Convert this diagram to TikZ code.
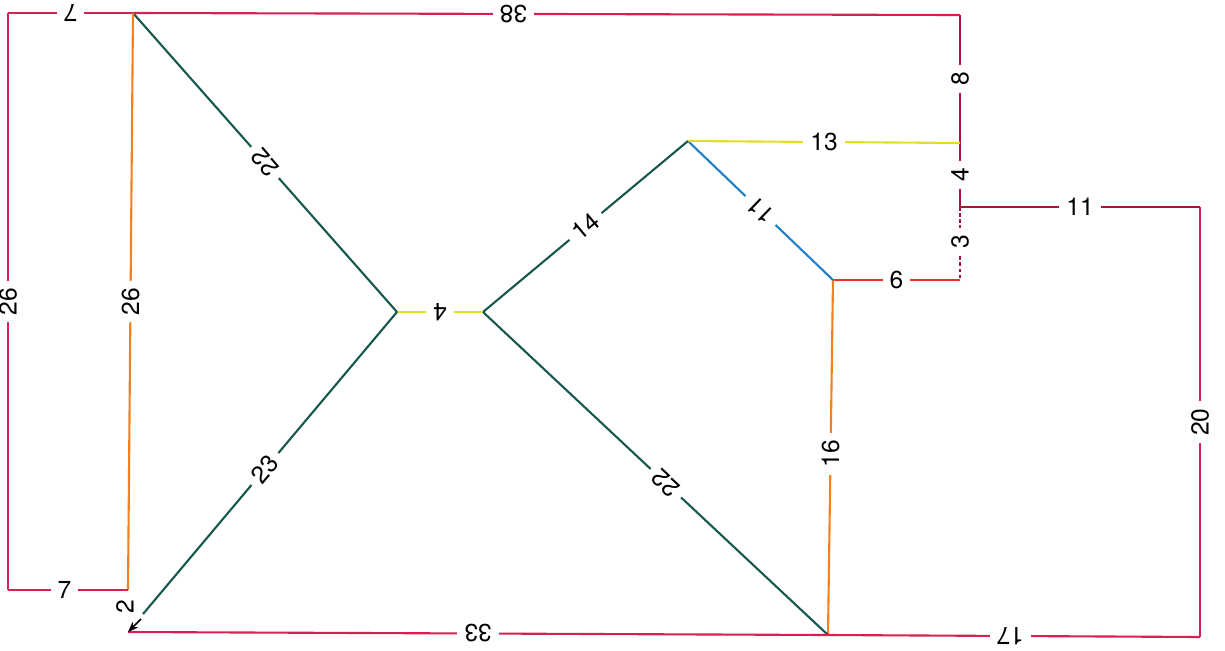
\documentclass[tikz,border=0pt]{standalone}
\usepackage{fontspec}
\setmainfont{TeX Gyre Heros}
\usetikzlibrary{arrows.meta}
\definecolor{crim}{RGB}{214,32,82}
\definecolor{dcrim}{RGB}{170,20,60}
\definecolor{tgreen}{RGB}{22,88,78}
\definecolor{lyellow}{RGB}{226,222,40}
\definecolor{lorange}{RGB}{242,128,30}
\definecolor{lblue}{RGB}{30,128,200}
\definecolor{lred}{RGB}{232,52,40}
\begin{document}
\begin{tikzpicture}[
  x=0.02cm, y=-0.02cm,
  line width=1.2pt,
  lbl/.style={fill=white,text=black,inner sep=4pt,font=\fontsize{14}{16}\selectfont}
]
  \useasboundingbox (0,0) rectangle (1225,650);
  \coordinate (tl) at (8,13);
  \coordinate (ta) at (133,13);
  \coordinate (tr) at (960,15);
  \coordinate (rm) at (960,143);
  \coordinate (rj) at (960,207);
  \coordinate (rb) at (960,280);
  \coordinate (pk) at (688,141);
  \coordinate (cd) at (833,280);
  \coordinate (cl) at (397,312);
  \coordinate (cr) at (483,312);
  \coordinate (bl) at (8,590);
  \coordinate (ob) at (128,590);
  \coordinate (bc) at (128,632);
  \coordinate (bm) at (828,635);
  \coordinate (br) at (1200,637);
  \coordinate (rr) at (1200,207);
  \coordinate (ge) at (143,614);
  \coordinate (as) at (141,619);
  \draw[crim] (tl) -- node[lbl,rotate=180] {7} (ta);
  \draw[crim] (ta) -- node[lbl,pos=0.46,rotate=180] {38} (tr);
  \draw[dcrim] (tr) -- node[lbl,rotate=90] {8} (rm);
  \draw[dcrim] (rm) -- node[lbl,rotate=90] {4} (rj);
  \draw[dcrim,dash pattern=on 2pt off 1.5pt] (rj) -- node[lbl,pos=0.48,rotate=90] {3} (rb);
  \draw[lred] (rb) -- node[lbl] {6} (cd);
  \draw[lorange] (cd) -- node[lbl,pos=0.49,rotate=90] {16} (bm);
  \draw[lblue] (pk) -- node[lbl,rotate=136] {11} (cd);
  \draw[lyellow] (pk) -- node[lbl] {13} (rm);
  \draw[tgreen] (cr) -- node[lbl,rotate=40] {14} (pk);
  \draw[lyellow] (cl) -- node[lbl,rotate=180] {4} (cr);
  \draw[tgreen] (ta) -- node[lbl,rotate=131] {22} (cl);
  \draw[tgreen] (cl) -- node[lbl,pos=0.52,rotate=50] {23} (ge);
  \draw[tgreen] (cr) -- node[lbl,pos=0.53,rotate=137] {22} (bm);
  \draw[lorange] (ta) -- node[lbl,rotate=90] {26} (ob);
  \draw[crim] (tl) -- node[lbl,rotate=90] {26} (bl);
  \draw[crim] (bl) -- node[lbl,pos=0.47] {7} (ob);
  \draw[crim] (bc) -- node[lbl,rotate=180] {33} (bm);
  \draw[crim] (bm) -- node[lbl,pos=0.49,rotate=180] {17} (br);
  \draw[crim] (br) -- node[lbl,rotate=90] {20} (rr);
  \draw[dcrim] (rj) -- node[lbl] {11} (rr);
  \draw[black,line width=0.9pt,-{Stealth[length=6pt]}] (as) -- (bc);
  \node[font=\fontsize{14}{16}\selectfont,rotate=90] (two) at (125,607) {2};
\end{tikzpicture}
\end{document}
